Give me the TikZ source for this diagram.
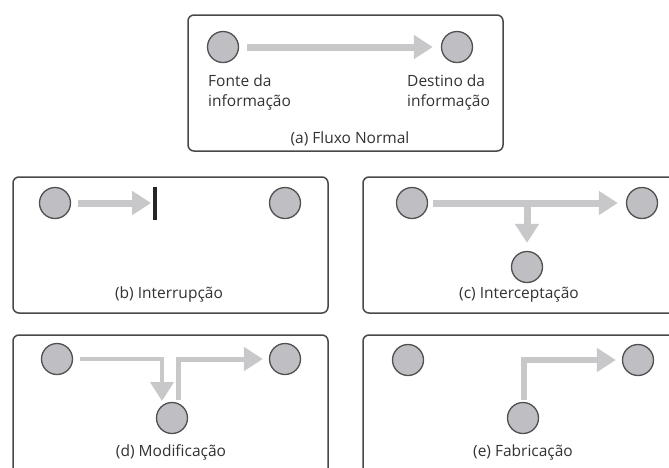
\documentclass[tikz,border=0pt]{standalone}
\usepackage{fontspec}
\setmainfont{Open Sans}
\usetikzlibrary{arrows.meta}

\definecolor{framecol}{RGB}{72,72,72}
\definecolor{flowcol}{RGB}{200,200,202}
\definecolor{nodefill}{RGB}{190,190,195}
\definecolor{nodeline}{RGB}{80,80,80}
\definecolor{textcol}{RGB}{50,50,50}

\tikzset{
  panel/.style={draw=framecol, line width=1.5pt, rounded corners=6pt},
  party/.style={circle, draw=nodeline, fill=nodefill, line width=1.3pt,
    minimum size=31pt, inner sep=0pt},
  flow/.style={draw=flowcol, line width=7pt, line join=miter,
    -{Triangle[length=19pt,width=23pt]}},
  flowthin/.style={flow, line width=5pt},
  cutbar/.style={fill=black!85, inner sep=0pt, minimum width=3.4pt,
    minimum height=33pt},
  lbl/.style={text=textcol, inner sep=0pt,
    font=\fontsize{15.5}{20}\selectfont},
}

\begin{document}
\begin{tikzpicture}[x=1pt, y=-1pt]
\useasboundingbox (0,0) rectangle (669,467);
\clip (0,0) rectangle (669,467);

% (a) normal flow
\draw[panel] (188,15) rectangle (503,151);
\node[party] (srcA) at (223,47) {};
\node[party] (dstA) at (457,47) {};
\draw[flow, shorten <=8pt, shorten >=8pt] (srcA) -- (dstA);
\node[lbl, anchor=north west, align=left] (txtSrcA) at (208,75) {Fonte da\\informação};
\node[lbl, anchor=north west, align=left] (txtDstA) at (407,75) {Destino da\\informação};
\node[lbl, anchor=base] (capA) at (350,143) {(a) Fluxo Normal};

% (b) interruption
\draw[panel] (13,177) rectangle (328,313);
\node[party] (srcB) at (55,203) {};
\node[party] (dstB) at (285,203) {};
\node[cutbar] (barB) at (155,203) {};
\draw[flow, shorten <=7pt, shorten >=2pt] (srcB) -- (barB.west);
\node[lbl, anchor=base] (capB) at (169,298) {(b) Interrupção};

% (c) interception
\draw[panel] (363,177) rectangle (690,313);
\node[party] (srcC) at (412,203) {};
\node[party] (dstC) at (642,203) {};
\node[party] (midC) at (527,267) {};
\draw[flow, shorten <=5pt, shorten >=8pt] (srcC) -- (dstC);
\coordinate (splitC) at (527,204);
\draw[flow, shorten >=8pt] (splitC) -- (midC);
\node[lbl, anchor=base] (capC) at (519,298) {(c) Interceptação};

% (d) modification
\draw[panel] (13,335) rectangle (328,490);
\node[party] (srcD) at (57,359) {};
\node[party] (dstD) at (285,359) {};
\node[party] (midD) at (172,418) {};
\coordinate (outD) at ([xshift=7pt]srcD.east);
\coordinate (tipD) at (162,401);
\draw[flowthin, line width=4pt] (outD) -| (tipD);
\coordinate (backD) at (178,400);
\draw[flowthin, shorten >=6pt] (backD) |- (dstD);
\node[lbl, anchor=base] (capD) at (171,456) {(d) Modificação};

% (e) fabrication
\draw[panel] (363,335) rectangle (690,490);
\node[party] (srcE) at (408,360) {};
\node[party] (dstE) at (638,360) {};
\node[party] (midE) at (523,418) {};
\coordinate (outE) at (524,400);
\draw[flowthin, line width=5.5pt, shorten >=6pt] (outE) |- (dstE);
\node[lbl, anchor=base] (capE) at (523,456) {(e) Fabricação};
\end{tikzpicture}
\end{document}
